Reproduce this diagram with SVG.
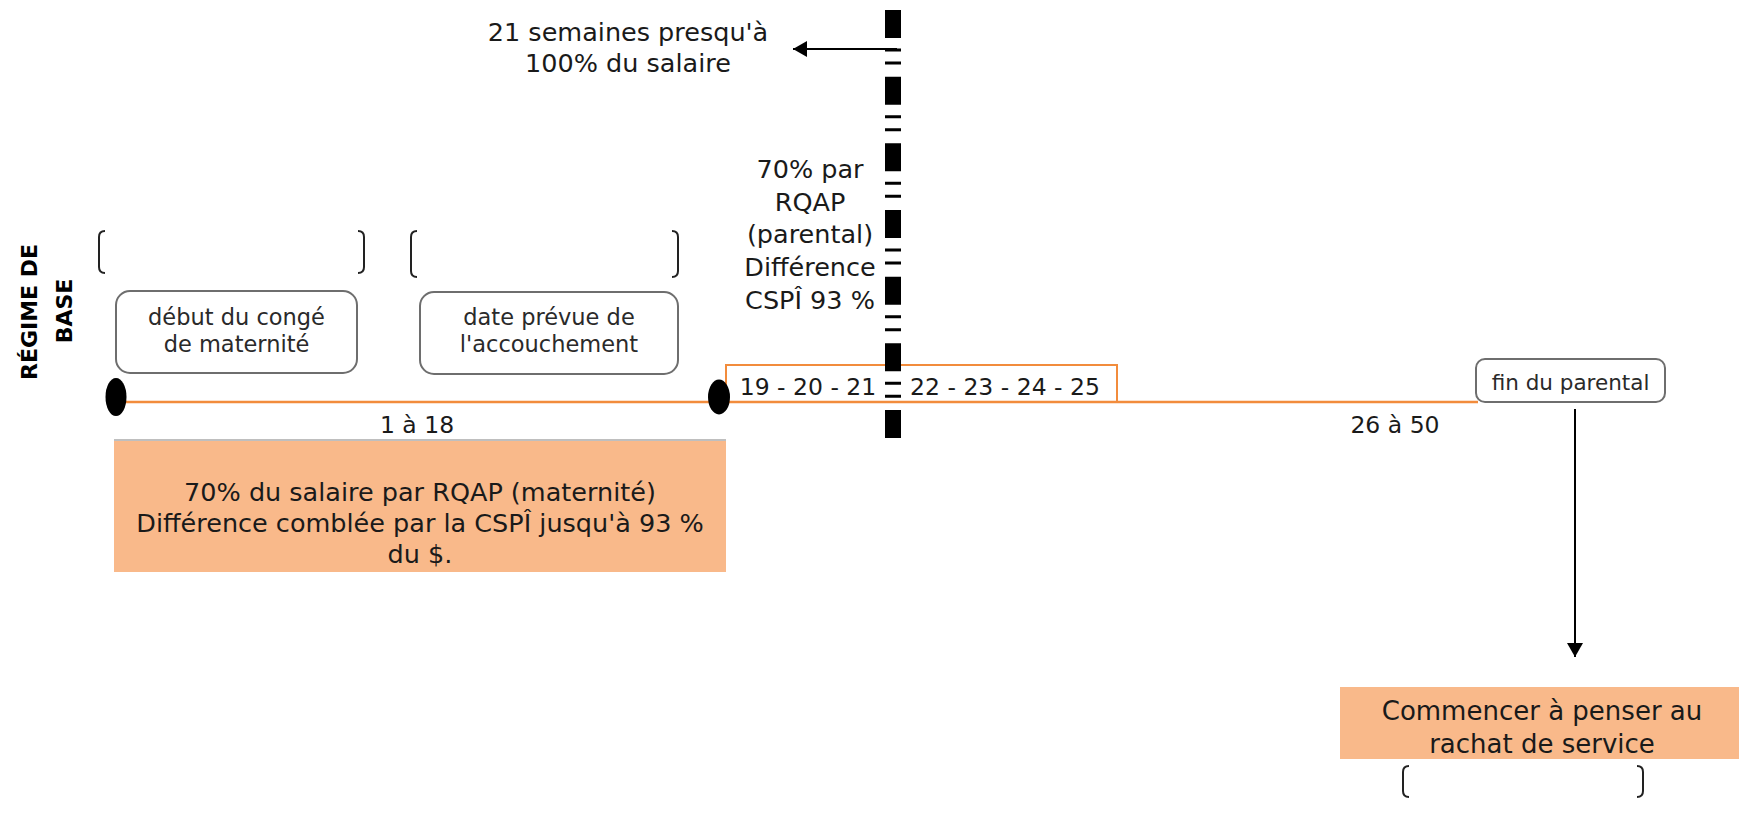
<svg xmlns="http://www.w3.org/2000/svg" width="1739" height="819" viewBox="0 0 1739 819">
<defs>
<style>
text{font-family:"DejaVu Sans","Liberation Sans",sans-serif;fill:#1a1a1a;}
.big{font-size:25.5px;text-anchor:middle;}
.mid{font-size:23.5px;text-anchor:middle;}
.sm{font-size:22.5px;text-anchor:middle;fill:#2a2a2a;}
.bold{font-size:22px;font-weight:bold;text-anchor:middle;fill:#000;}
.rbox{fill:#fff;stroke:#6e6e6e;stroke-width:2;}
.fill{fill:#F9B98A;}
.brk{fill:none;stroke:#222;stroke-width:2;}
.arrow{stroke:#000;stroke-width:2;fill:none;}
.dot{fill:#000;}
.tl{stroke:#F28C3C;stroke-width:2.5;fill:none;}
</style>
<marker id="ah" viewBox="0 0 14 16" refX="14" refY="8" markerWidth="14" markerHeight="16" markerUnits="userSpaceOnUse" orient="auto">
<path d="M0,0 L14,8 L0,16 Z" fill="#000"/>
</marker>
</defs>
<rect width="1739" height="819" fill="#fff"/>

<g id="title">
<text class="bold" transform="translate(37,312) rotate(-90)">RÉGIME DE</text>
<text class="bold" transform="translate(72,311) rotate(-90)">BASE</text>
</g>

<g id="connectors">
<line class="tl" x1="116" y1="402" x2="1478" y2="402"/>
<rect x="726" y="365" width="391" height="37" fill="none" stroke="#F28C3C" stroke-width="2"/>
<line x1="893" y1="10" x2="893" y2="438" stroke="#000" stroke-width="16" stroke-dasharray="28 10.5 3 10 3 12.17"/>
<line class="arrow" x1="897" y1="49" x2="793" y2="49" marker-end="url(#ah)"/>
<line class="arrow" x1="1575" y1="409" x2="1575" y2="657" marker-end="url(#ah)"/>
</g>

<g id="bracket1">
<path class="brk" d="M105,231 Q99,231 99,237 L99,267 Q99,273 105,273"/>
<path class="brk" d="M358,231 Q364,231 364,237 L364,267 Q364,273 358,273"/>
</g>
<g id="bracket2">
<path class="brk" d="M417,231 Q411,231 411,237 L411,271 Q411,277 417,277"/>
<path class="brk" d="M672,231 Q678,231 678,237 L678,271 Q678,277 672,277"/>
</g>
<g id="bracket3">
<path class="brk" d="M1409,766 Q1403,766 1403,772 L1403,791 Q1403,797 1409,797"/>
<path class="brk" d="M1637,766 Q1643,766 1643,772 L1643,791 Q1643,797 1637,797"/>
</g>

<g id="debut">
<rect class="rbox" x="116" y="291" width="241" height="82" rx="14"/>
<text class="sm" x="236.5" y="325">début du congé</text>
<text class="sm" x="236.5" y="352">de maternité</text>
</g>
<g id="date">
<rect class="rbox" x="420" y="292" width="258" height="82" rx="14"/>
<text class="sm" x="549" y="325">date prévue de</text>
<text class="sm" x="549" y="352">l'accouchement</text>
</g>
<g id="fin">
<rect class="rbox" x="1476" y="359" width="189" height="43" rx="9"/>
<text class="sm" x="1570.5" y="390" style="font-size:21.5px">fin du parental</text>
</g>

<g id="start-dot"><ellipse class="dot" cx="116" cy="397" rx="10.5" ry="19"/></g>
<g id="birth-dot"><ellipse class="dot" cx="719" cy="397" rx="11" ry="17.5"/></g>

<g id="weeks">
<text class="mid" x="417" y="433">1 à 18</text>
<text class="mid" x="808" y="395">19 - 20 - 21</text>
<text class="mid" x="1005" y="395">22 - 23 - 24 - 25</text>
<text class="mid" x="1395" y="433">26 à 50</text>
</g>

<g id="note-top">
<text class="big" x="628" y="41">21 semaines presqu'à</text>
<text class="big" x="628" y="72">100% du salaire</text>
</g>

<g id="note-parental">
<text class="big" x="810" y="178">70% par</text>
<text class="big" x="810" y="211">RQAP</text>
<text class="big" x="810" y="243">(parental)</text>
<text class="big" x="810" y="276">Différence</text>
<text class="big" x="810" y="309">CSPÎ 93 %</text>
</g>

<g id="maternite">
<line x1="114" y1="440" x2="726" y2="440" stroke="#BFBFBF" stroke-width="2"/>
<rect class="fill" x="114" y="441" width="612" height="131"/>
<text class="big" x="420" y="501">70% du salaire par RQAP (maternité)</text>
<text class="big" x="420" y="532">Différence comblée par la CSPÎ jusqu'à 93 %</text>
<text class="big" x="420" y="563">du $.</text>
</g>

<g id="rachat">
<rect class="fill" x="1340" y="687" width="399" height="72"/>
<text class="big" x="1542" y="720" style="font-size:26px">Commencer à penser au</text>
<text class="big" x="1542" y="753" style="font-size:26px">rachat de service</text>
</g>
</svg>
